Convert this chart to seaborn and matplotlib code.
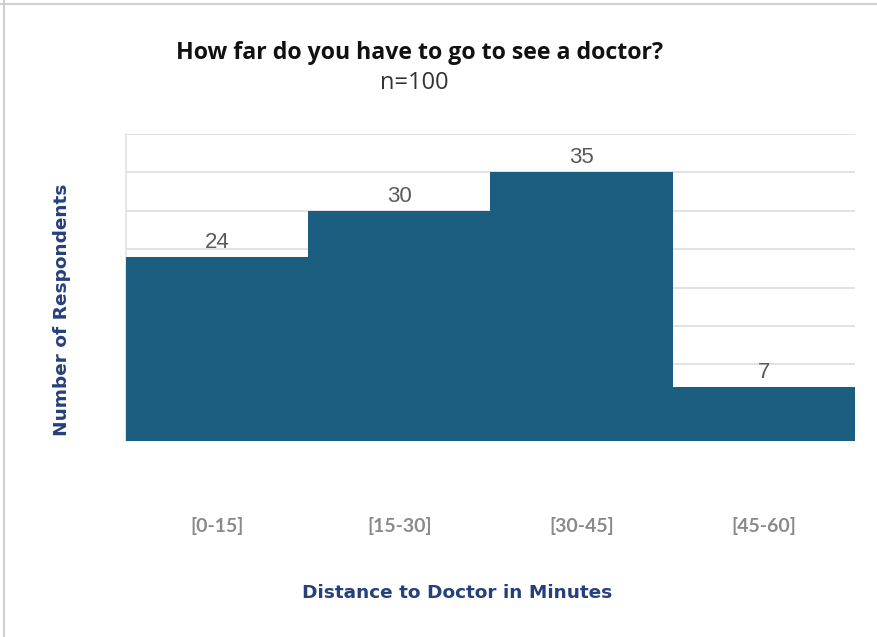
import matplotlib
matplotlib.use("Agg")
import matplotlib.pyplot as plt
import matplotlib.lines as mlines
import seaborn as sns
import pandas as pd

categories = ["[0-15]", "[15-30]", "[30-45]", "[45-60]"]
counts = [24, 30, 35, 7]
title = "How far do you have to go to see a doctor?"
subtitle = "n=100"
xlabel = "Distance to Doctor in Minutes"
ylabel = "Number of Respondents"

sns.set_theme(style="white")
plt.rcParams['font.family'] = ['Open Sans', 'DejaVu Sans']

df = pd.DataFrame({"cat": categories, "count": counts})

fig = plt.figure(figsize=(8.78, 6.37), dpi=100)
ax = fig.add_axes([126/878, 1-441/637, (855-126)/878, (441-134)/637])

sns.barplot(data=df, x="cat", y="count", color="#1b5e7f", width=1.0,
            saturation=1, ax=ax, zorder=3)
for p in ax.patches:
    p.set_linewidth(0)

ax.set_ylim(0, 40)
ax.set_xlim(-0.5, 3.5)
ax.set_yticks(range(5, 45, 5))
ax.set_yticklabels([])
ax.tick_params(axis='y', length=0)
ax.yaxis.grid(True, color="#dddddd", linewidth=1.2, zorder=0)
ax.set_axisbelow(True)
for s in ["top", "right", "bottom"]:
    ax.spines[s].set_visible(False)
ax.spines["left"].set_color("#e2e2e2")
ax.spines["left"].set_linewidth(1.2)

ax.tick_params(axis='x', length=0, pad=55)
for lbl in ax.get_xticklabels():
    lbl.set_family(['Lato', 'DejaVu Sans'])
    lbl.set_fontsize(14)
    lbl.set_color("#8a8a8a")
    lbl.set_fontweight('bold')

ax.set_xlabel(xlabel, family=['DejaVu Sans'], fontweight='bold',
              fontsize=13.3, color="#26407c", labelpad=35)
ax.set_ylabel(ylabel, family=['DejaVu Sans'], fontweight='bold',
              fontsize=13.3, color="#26407c", labelpad=36)
ax.xaxis.label.set_x((457 - 126) / 729)
ax.yaxis.label.set_y((441 - 310) / 307)

for i, v in enumerate(counts):
    ax.annotate(str(v), (i, v), xytext=(0, 3), textcoords="offset points",
                ha="center", va="bottom", fontsize=16,
                family=['Liberation Sans', 'DejaVu Sans'], color="#5a5a5a")

fig.text(420/878, 1-53/637, title, ha="center", va="center",
         fontsize=16.7, fontweight="bold", color="#111111")
fig.text(414/878, 1-83/637, subtitle, ha="center", va="center",
         fontsize=17, color="#333333")

fig.add_artist(mlines.Line2D([4.5/878, 4.5/878], [0, 1], transform=fig.transFigure,
                             color="#cfcfcf", linewidth=1.5))
fig.add_artist(mlines.Line2D([0, 1], [1-3.5/637, 1-3.5/637], transform=fig.transFigure,
                             color="#cfcfcf", linewidth=1.5))

fig.savefig("out.png", dpi=100)
